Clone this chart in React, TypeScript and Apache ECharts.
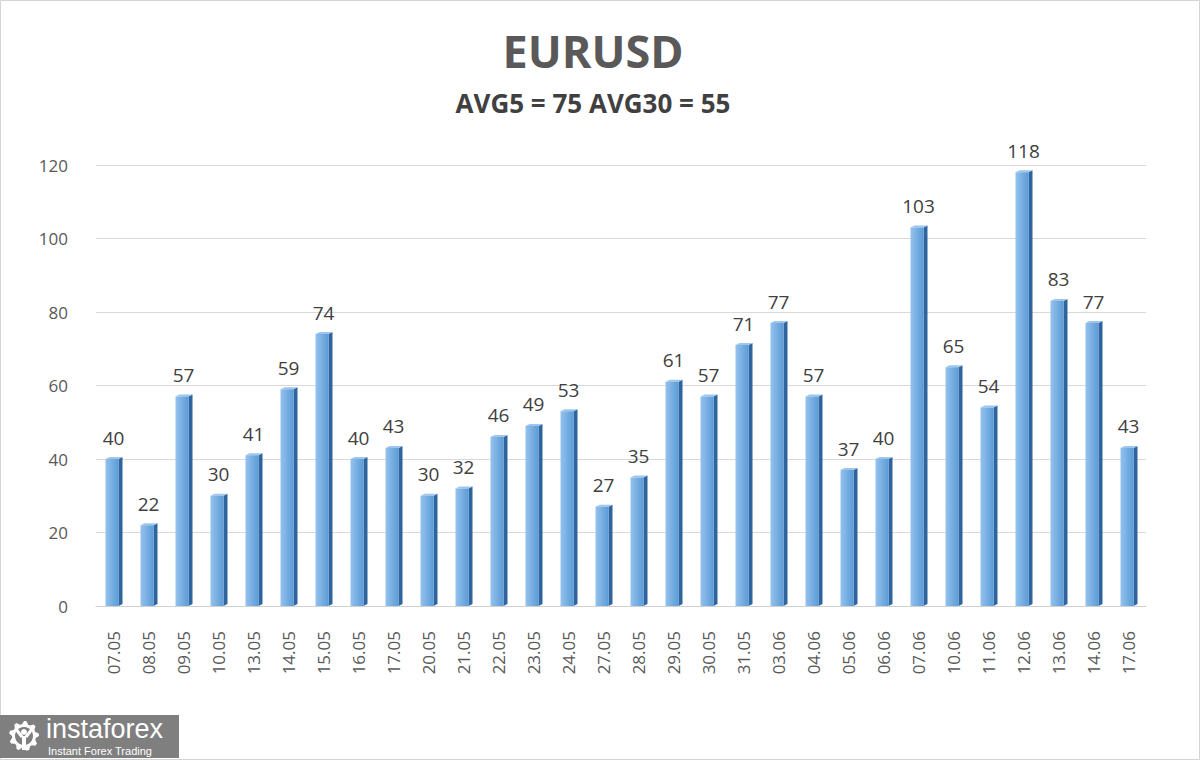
import React, { useEffect, useRef } from "react";
import * as echarts from "echarts";

const categories = ["07.05","08.05","09.05","10.05","13.05","14.05","15.05","16.05","17.05","20.05","21.05","22.05","23.05","24.05","27.05","28.05","29.05","30.05","31.05","03.06","04.06","05.06","06.06","07.06","10.06","11.06","12.06","13.06","14.06","17.06"];
const values = [40,22,57,30,41,59,74,40,43,30,32,46,49,53,27,35,61,57,71,77,57,37,40,103,65,54,118,83,77,43];
const titleText = "EURUSD";
const subtitleText = "AVG5 = 75 AVG30 = 55";

function gearPoints(cx: number, cy: number, rOut: number, rIn: number, teeth: number) {
  const pts: number[][] = [];
  const n = teeth * 4;
  for (let k = 0; k < n; k++) {
    const a = (k / n) * Math.PI * 2 - Math.PI / 2;
    const r = k % 4 === 0 || k % 4 === 1 ? rOut : rIn;
    pts.push([cx + r * Math.cos(a), cy + r * Math.sin(a)]);
  }
  return pts;
}

export default function App() {
  const ref = useRef<HTMLDivElement>(null);
  useEffect(() => {
    if (!ref.current) return;
    const chart = echarts.init(ref.current, null, { renderer: "svg" });
    const font = "'Open Sans', 'Noto Sans', sans-serif";
    const option: any = {
      animation: false,
      backgroundColor: "#ffffff",
      title: [
        {
          text: titleText,
          left: 588,
          textAlign: "center",
          top: 23,
          textStyle: { fontSize: 45, fontWeight: "bold", color: "#595959", fontFamily: font },
        },
        {
          text: subtitleText,
          left: 588,
          textAlign: "center",
          top: 85,
          textStyle: { fontSize: 26, fontWeight: "bold", color: "#404040", fontFamily: font },
        },
      ],
      grid: { left: 96, right: 54, top: 165, bottom: 154, containLabel: false },
      xAxis: {
        type: "category",
        data: categories,
        axisLine: { show: true, lineStyle: { color: "#d0d0d0", width: 1 } },
        axisTick: { show: false },
        axisLabel: {
          rotate: 90,
          margin: 25,
          fontSize: 17,
          color: "#595959",
          fontFamily: font,
          interval: 0,
        },
      },
      yAxis: {
        type: "value",
        min: 0,
        max: 120,
        interval: 20,
        axisLine: { show: false },
        axisTick: { show: false },
        axisLabel: { fontSize: 17, color: "#595959", fontFamily: font, margin: 28 },
        splitLine: { lineStyle: { color: "#d9d9d9", width: 1 } },
      },
      series: [
        {
          type: "custom",
          data: values.map((v, i) => [i, v]),
          encode: { x: 0, y: 1 },
          renderItem: (params: any, api: any) => {
            const i = api.value(0);
            const v = api.value(1);
            const top = api.coord([i, v]);
            const base = api.coord([i, 0]);
            const fw = 13;
            const d = 4;
            const x0 = top[0] - 8;
            const x1 = x0 + fw;
            const yt = top[1];
            const yb = base[1];
            return {
              type: "group",
              children: [
                {
                  type: "polygon",
                  shape: { points: [[x1, yt], [x1 + d, yt - 2], [x1 + d, yb - 2], [x1, yb]] },
                  style: { fill: "#2f659e" },
                },
                {
                  type: "polygon",
                  shape: { points: [[x0, yt], [x0 + d, yt - 2], [x1 + d, yt - 2], [x1, yt]] },
                  style: { fill: "#9cc6ee" },
                },
                {
                  type: "rect",
                  shape: { x: x0, y: yt, width: fw, height: yb - yt },
                  style: {
                    fill: new echarts.graphic.LinearGradient(0, 0, 1, 0, [
                      { offset: 0, color: "#94c2ee" },
                      { offset: 1, color: "#5c9bd6" },
                    ]),
                  },
                },
                {
                  type: "text",
                  style: {
                    text: String(v),
                    x: top[0],
                    y: yt - 12,
                    align: "center",
                    verticalAlign: "bottom",
                    fontSize: 19,
                    fill: "#404040",
                    fontFamily: font,
                  },
                },
              ],
            };
          },
        },
      ],
      graphic: [
        {
          type: "rect",
          shape: { x: 0.5, y: 0.5, width: 1199, height: 759 },
          style: { fill: "none", stroke: "#d4d4d4", lineWidth: 1 },
          silent: true,
        },
        {
          type: "group",
          left: 0,
          top: 715,
          children: [
            { type: "rect", shape: { x: 0, y: 0, width: 179, height: 43 }, style: { fill: "#7f7f7f" } },
            {
              type: "polygon",
              shape: { points: gearPoints(24, 21, 15, 12, 9) },
              style: { fill: "#ffffff" },
            },
            { type: "circle", shape: { cx: 24, cy: 21, r: 9 }, style: { fill: "#7f7f7f" } },
            { type: "circle", shape: { cx: 24, cy: 17, r: 3 }, style: { fill: "#ffffff" } },
            { type: "rect", shape: { x: 22, y: 21, width: 4, height: 14 }, style: { fill: "#ffffff" } },
            { type: "line", shape: { x1: 16, y1: 14, x2: 22, y2: 22 }, style: { stroke: "#ffffff", lineWidth: 3 } },
            { type: "line", shape: { x1: 32, y1: 14, x2: 26, y2: 22 }, style: { stroke: "#ffffff", lineWidth: 3 } },
            {
              type: "text",
              style: { text: "instaforex", x: 46, y: 0, verticalAlign: "top", fontSize: 27, lineHeight: 28, fill: "#ffffff", fontFamily: "'Liberation Sans', sans-serif" },
            },
            {
              type: "text",
              style: { text: "Instant Forex Trading", x: 48, y: 30, verticalAlign: "top", fontSize: 11, lineHeight: 12, fill: "#ffffff", fontFamily: "'Liberation Sans', sans-serif" },
            },
          ],
        },
      ],
    };
    chart.setOption(option);
    return () => chart.dispose();
  }, []);
  return (
    <div
      ref={ref}
      style={{ position: "absolute", left: 0, top: 0, width: 1200, height: 760 }}
    />
  );
}
